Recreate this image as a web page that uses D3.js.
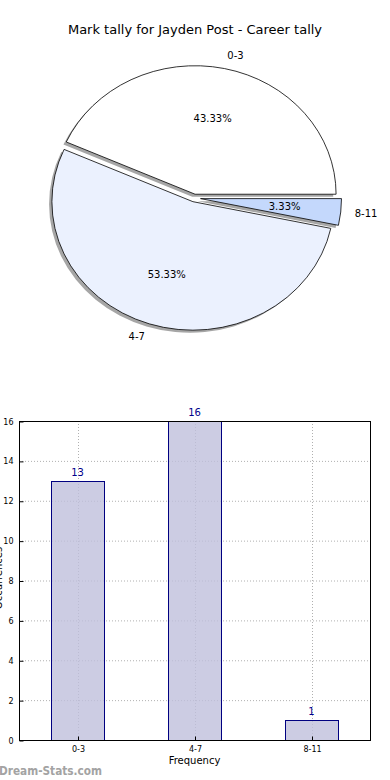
<!DOCTYPE html>
<html>
<head>
<meta charset="utf-8">
<script src="https://cdn.jsdelivr.net/npm/d3@7"></script>
<style>
  body { margin: 0; background: #fff; }
  text { font-family: "DejaVu Sans", sans-serif; }
</style>
</head>
<body>
<div id="chart"></div>
<script>
// data
const categories = ["0-3", "4-7", "8-11"];
const counts = [13, 16, 1];
const yTicks = [0, 2, 4, 6, 8, 10, 12, 14, 16];
const pieColors = ["#ffffff", "#ebf1fe", "#c4d8fc"];
const explodeBy = [0.03, 0.03, 0.045];

const W = 390, H = 780;
const svg = d3.select("#chart").append("svg")
  .attr("width", W)
  .attr("height", H);

svg.append("text")
  .attr("x", 195)
  .attr("y", 34)
  .attr("text-anchor", "middle")
  .attr("font-size", 13)
  .text("Mark tally for Jayden Post - Career tally");

// ---- pie (matplotlib style, elliptical, ccw from 3 o'clock) ----
const cx = 194.2, cy = 198;
const rx = 141, ry = 128.5;
const R = 100; // unit radius, scaled to ellipse
const total = d3.sum(counts);

const pie = d3.pie()
  .sort(null)
  .startAngle(Math.PI / 2)
  .endAngle(Math.PI / 2 - 2 * Math.PI);
const arcs = pie(counts);
const arc = d3.arc().innerRadius(0).outerRadius(R);

// centre of each (exploded) wedge
function wedgeCenter(d, i) {
  let mid = (d.startAngle + d.endAngle) / 2;
  return {
    x: cx + explodeBy[i] * rx * Math.sin(mid),
    y: cy - explodeBy[i] * ry * Math.cos(mid),
    mid: mid
  };
}
// point on ellipse at d3 angle a, fraction f of radius
function onEllipse(c, a, f) {
  return { x: c.x + f * rx * Math.sin(a), y: c.y - f * ry * Math.cos(a) };
}

const pieG = svg.append("g");

// shadows below everything
pieG.selectAll(".shadow")
  .data(arcs)
  .join("path")
  .attr("class", "shadow")
  .attr("transform", (d, i) => {
    let c = wedgeCenter(d, i);
    return `translate(${c.x - 0.02 * rx},${c.y + 0.02 * ry}) scale(${rx / R},${ry / R})`;
  })
  .attr("d", arc)
  .attr("fill", "#4d4d4d")
  .attr("fill-opacity", 0.5)
  .attr("stroke", "none");

pieG.selectAll(".wedge")
  .data(arcs)
  .join("path")
  .attr("class", "wedge")
  .attr("transform", (d, i) => {
    let c = wedgeCenter(d, i);
    return `translate(${c.x},${c.y}) scale(${rx / R},${ry / R})`;
  })
  .attr("d", arc)
  .attr("fill", (d, i) => pieColors[i])
  .attr("stroke", "#000")
  .attr("stroke-width", 0.8)
  .attr("vector-effect", "non-scaling-stroke");

// labels
pieG.selectAll(".plabel")
  .data(arcs)
  .join("text")
  .attr("class", "plabel")
  .each(function(d, i) {
    let c = wedgeCenter(d, i);
    let p = onEllipse(c, c.mid, 1.1);
    d3.select(this)
      .attr("x", p.x)
      .attr("y", p.y + 3.5)
      .attr("text-anchor", Math.sin(c.mid) >= 0 ? "start" : "end");
  })
  .attr("font-size", 10)
  .text((d, i) => categories[i]);

pieG.selectAll(".pct")
  .data(arcs)
  .join("text")
  .attr("class", "pct")
  .each(function(d, i) {
    let c = wedgeCenter(d, i);
    let p = onEllipse(c, c.mid, 0.6);
    d3.select(this).attr("x", p.x).attr("y", p.y + 3.5);
  })
  .attr("text-anchor", "middle")
  .attr("font-size", 10)
  .text(d => (d.value / total * 100).toFixed(2) + "%");

// ---- bar chart ----
const plotL = 19, plotR = 370, plotT = 421, plotB = 740;

const x = d3.scaleLinear().domain([-0.5, 2.5]).range([plotL, plotR]);
const y = d3.scaleLinear().domain([0, 16]).range([plotB, plotT]);
const barW = 0.45;

const bars = svg.append("g");

// grid
bars.selectAll(".hgrid")
  .data(yTicks.slice(1, -1))
  .join("line")
  .attr("x1", plotL).attr("x2", plotR)
  .attr("y1", d => y(d) + 0.5).attr("y2", d => y(d) + 0.5)
  .attr("stroke", "#b0b0b0")
  .attr("stroke-width", 1)
  .attr("stroke-dasharray", "1,2");

bars.selectAll(".vgrid")
  .data(categories)
  .join("line")
  .attr("x1", (d, i) => Math.round(x(i)) + 0.5).attr("x2", (d, i) => Math.round(x(i)) + 0.5)
  .attr("y1", plotT).attr("y2", plotB)
  .attr("stroke", "#b0b0b0")
  .attr("stroke-width", 1)
  .attr("stroke-dasharray", "1,2");

bars.selectAll(".bar")
  .data(counts)
  .join("rect")
  .attr("x", (d, i) => Math.round(x(i - barW / 2)) + 0.5)
  .attr("y", d => Math.round(y(d)) + 0.5)
  .attr("width", Math.round(x(barW) - x(0)))
  .attr("height", d => Math.round(y(0)) - Math.round(y(d)))
  .attr("fill", "#bfbfdc")
  .attr("fill-opacity", 0.8)
  .attr("stroke", "#000080")
  .attr("stroke-width", 1);

bars.selectAll(".val")
  .data(counts)
  .join("text")
  .attr("x", (d, i) => x(i))
  .attr("y", d => y(d) - 5)
  .attr("text-anchor", "middle")
  .attr("font-size", 10)
  .attr("fill", "#00008b")
  .text(d => d);

// frame
bars.append("rect")
  .attr("x", plotL + 0.5).attr("y", plotT + 0.5)
  .attr("width", plotR - plotL).attr("height", plotB - plotT)
  .attr("fill", "none")
  .attr("stroke", "#000")
  .attr("stroke-width", 1);

// y ticks
const yAxis = d3.axisLeft(y).tickValues(yTicks).tickSize(-4).tickPadding(6);
svg.append("g")
  .attr("transform", `translate(${plotL + 0.5},0.5)`)
  .call(yAxis)
  .call(g => g.select(".domain").remove())
  .call(g => g.selectAll("text").attr("font-size", 8).attr("font-family", "DejaVu Sans Condensed, DejaVu Sans"))
  .call(g => g.selectAll("line").attr("stroke", "#000"));

// x ticks
const xAxis = d3.axisBottom(x).tickValues([0, 1, 2]).tickFormat(i => categories[i]).tickSize(-4).tickPadding(6);
svg.append("g")
  .attr("transform", `translate(0.5,${plotB + 0.5})`)
  .call(xAxis)
  .call(g => g.select(".domain").remove())
  .call(g => g.selectAll("text").attr("font-size", 8).attr("font-family", "DejaVu Sans Condensed, DejaVu Sans"))
  .call(g => g.selectAll("line").attr("stroke", "#000"));

svg.append("text")
  .attr("x", x(1))
  .attr("y", 764)
  .attr("text-anchor", "middle")
  .attr("font-size", 10)
  .text("Frequency");

// y label: clipped by the left edge in the original too
svg.append("text")
  .attr("transform", "translate(2,578) rotate(-90)")
  .attr("text-anchor", "middle")
  .attr("font-size", 10)
  .text("Occurrences");

svg.append("text")
  .attr("x", -1)
  .attr("y", 775)
  .attr("font-size", 11.5)
  .attr("font-weight", 600)
  .attr("fill", "#a3a3a3")
  .attr("font-family", "Open Sans, DejaVu Sans, sans-serif")
  .attr("textLength", 103)
  .attr("lengthAdjust", "spacingAndGlyphs")
  .text("Dream-Stats.com");
</script>
</body>
</html>
